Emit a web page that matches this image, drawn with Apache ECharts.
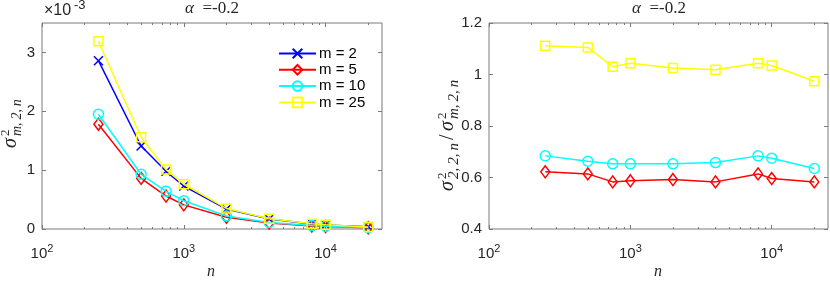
<!DOCTYPE html>
<html><head><meta charset="utf-8">
<script src="https://cdn.jsdelivr.net/npm/echarts@6/dist/echarts.min.js"></script>
<style>html,body{margin:0;padding:0;background:#fff}#c{width:830px;height:281px}</style>
</head><body><div id="c"></div>
<script>
// ---- data ----
const nValues = [250, 500, 750, 1000, 2000, 4000, 8000, 10000, 20000];
const seriesNames = ['m = 2', 'm = 5', 'm = 10', 'm = 25'];
// left panel: sigma^2_{m,2,n}, in units of 1e-3
const varM2  = [2.86, 1.41, 0.98, 0.73, 0.34, 0.17, 0.085, 0.070, 0.037];
const varM5  = [1.78, 0.86, 0.56, 0.41, 0.20, 0.10, 0.052, 0.042, 0.022];
const varM10 = [1.95, 0.93, 0.64, 0.48, 0.22, 0.11, 0.058, 0.047, 0.024];
const varM25 = [3.19, 1.56, 1.01, 0.76, 0.35, 0.175, 0.089, 0.073, 0.036];
// right panel: ratio
const ratioM5  = [0.622, 0.614, 0.583, 0.587, 0.592, 0.583, 0.614, 0.596, 0.583];
const ratioM10 = [0.684, 0.663, 0.653, 0.653, 0.653, 0.658, 0.684, 0.675, 0.635];
const ratioM25 = [1.112, 1.105, 1.030, 1.044, 1.025, 1.018, 1.044, 1.035, 0.974];
// ticks
const xMajorTicks = [100, 1000, 10000];
const xMinorTicks = [200,300,400,500,600,700,800,900,2000,3000,4000,5000,6000,7000,8000,9000,20000];
const leftYTicks = [0, 1, 2, 3];
const rightYTicks = [0.4, 0.6, 0.8, 1, 1.2];
const titleText = '=-0.2';
const leftScaleText = '-3';

// ---- style ----
const frameColor = '#7a7a7a';
const textColor = '#262626';
const sans = '"Liberation Sans", Arial, Helvetica, sans-serif';
const serif = '"Liberation Serif", "Times New Roman", serif';
const colors = ['#0000ff', '#ff0000', '#00ffff', '#ffff00'];
const symbols = ['path://M0,0L10,10M10,0L0,10', 'diamond', 'circle', 'rect'];
const symbolSizes = [9, [9, 12], 10, 9];
const TS = '\u2009';

const c = echarts.init(document.getElementById('c'), null, {renderer: 'canvas'});

const grids = [
  {left: 42, top: 23, width: 340, height: 206, show: true, borderColor: frameColor, borderWidth: 1, backgroundColor: 'transparent'},
  {left: 489, top: 23, width: 339, height: 206, show: true, borderColor: frameColor, borderWidth: 1, backgroundColor: 'transparent'}
];

function xAxesFor(g) {
  const base = {type: 'log', logBase: 10, gridIndex: g, min: 100, max: 25000,
    splitLine: {show: false}, axisLine: {show: false}, minorTick: {show: false}};
  const tickMajor = {show: true, inside: true, length: 4, customValues: xMajorTicks, lineStyle: {color: frameColor}};
  const tickMinor = {show: true, inside: true, length: 2, customValues: xMinorTicks, lineStyle: {color: frameColor}};
  return [
    Object.assign({}, base, {position: 'bottom', axisTick: tickMajor,
      axisLabel: {show: true, customValues: xMajorTicks, margin: 14,
        formatter: v => '{b|10}{s|' + Math.round(Math.log10(v)) + '}',
        rich: {b: {fontSize: 15, fontFamily: sans, color: textColor, verticalAlign: 'bottom'},
               s: {fontSize: 11, fontFamily: sans, color: textColor, verticalAlign: 'bottom', padding: [0, 0, 7, 0]}}}}),
    Object.assign({}, base, {position: 'bottom', axisTick: tickMinor, axisLabel: {show: false}}),
    Object.assign({}, base, {position: 'top', axisTick: tickMajor, axisLabel: {show: false}}),
    Object.assign({}, base, {position: 'top', axisTick: tickMinor, axisLabel: {show: false}})
  ];
}
function yAxesFor(g, ticks, min, max) {
  const base = {type: 'value', gridIndex: g, min: min, max: max,
    splitLine: {show: false}, axisLine: {show: false}};
  const tick = {show: true, inside: true, length: 4, customValues: ticks, lineStyle: {color: frameColor}};
  return [
    Object.assign({}, base, {position: 'left', axisTick: tick,
      axisLabel: {customValues: ticks, margin: 7, fontSize: 15, fontFamily: sans, color: textColor}}),
    Object.assign({}, base, {position: 'right', axisTick: tick, axisLabel: {show: false}})
  ];
}

const xAxes = xAxesFor(0).concat(xAxesFor(1));
const yAxes = yAxesFor(0, leftYTicks, 0, 3.5).concat(yAxesFor(1, rightYTicks, 0.4, 1.2));

function mk(i, vals, xi, yi) {
  return {
    type: 'line', name: seriesNames[i], xAxisIndex: xi, yAxisIndex: yi,
    data: nValues.map((n, k) => [n, vals[k]]),
    symbol: symbols[i], symbolSize: symbolSizes[i], showAllSymbol: true,
    lineStyle: {color: colors[i], width: 1.5},
    itemStyle: {color: 'transparent', borderColor: colors[i], borderWidth: 1.5},
    emphasis: {disabled: true}, animation: false, z: 2 + i
  };
}

const series = [
  mk(0, varM2, 0, 0), mk(1, varM5, 0, 0), mk(2, varM10, 0, 0), mk(3, varM25, 0, 0),
  mk(1, ratioM5, 4, 2), mk(2, ratioM10, 4, 2), mk(3, ratioM25, 4, 2)
];

function title(cx) {
  return {type: 'text', x: cx, y: 0, style: {text: '{a|α}  {t|' + titleText + '}', align: 'center', verticalAlign: 'top',
    fontFamily: serif, fontSize: 17, fill: textColor, rich: {
    a: {fontFamily: serif, fontStyle: 'italic', fontSize: 17, fill: textColor},
    t: {fontFamily: serif, fontSize: 17, fill: textColor}}}};
}
// sigma with stacked super/subscript (local coords, before rotation)
function sigmaParts(x0, sub, subSize) {
  return [
    {type: 'text', x: x0, y: 1, style: {text: 'σ', fontFamily: serif, fontStyle: 'italic', fontSize: 20, fill: textColor}},
    {type: 'text', x: x0 + 12, y: -1, style: {text: '2', fontFamily: serif, fontSize: 13, fill: textColor}},
    {type: 'text', x: x0 + 12, y: 10, style: {text: sub, fontFamily: serif, fontStyle: 'italic', fontSize: subSize, fill: textColor}}
  ];
}
const subM = 'm,' + TS + '2,' + TS + 'n';
const sub2 = '2,' + TS + '2,' + TS + 'n';

const graphic = [
  title(212), title(659),
  // x10^-3
  {type: 'text', x: 44, y: 19, style: {text: '×10', fontFamily: sans, fontSize: 16, fill: textColor, verticalAlign: 'bottom'}},
  {type: 'text', x: 74, y: 12, style: {text: leftScaleText, fontFamily: sans, fontSize: 13, fill: textColor, verticalAlign: 'bottom'}},
  // x labels
  {type: 'text', x: 211, y: 264, style: {text: 'n', fontFamily: serif, fontStyle: 'italic', fontSize: 16, fill: textColor, align: 'center'}},
  {type: 'text', x: 658, y: 264, style: {text: 'n', fontFamily: serif, fontStyle: 'italic', fontSize: 16, fill: textColor, align: 'center'}},
  // left y label
  {type: 'group', x: 0, y: 148, rotation: Math.PI / 2, children: sigmaParts(0, subM, 14)},
  // right y label
  {type: 'group', x: 437, y: 191, rotation: Math.PI / 2, children: sigmaParts(0, sub2, 15).concat([
    {type: 'text', x: 51, y: 1, style: {text: '/', fontFamily: serif, fontSize: 20, fill: textColor}},
  ]).concat(sigmaParts(60, subM, 15))}
];

c.setOption({
  animation: false,
  backgroundColor: '#fff',
  grid: grids,
  xAxis: xAxes,
  yAxis: yAxes,
  legend: {
    data: seriesNames, orient: 'vertical', left: 273, top: 41,
    itemWidth: 37, itemHeight: 12, itemGap: 1.3, selectedMode: false,
    textStyle: {fontFamily: sans, fontSize: 15, lineHeight: 14, color: '#000', padding: [0, 0, 0, -2]},
    backgroundColor: 'transparent', borderWidth: 0
  },
  series: series,
  graphic: graphic
});
</script></body></html>
